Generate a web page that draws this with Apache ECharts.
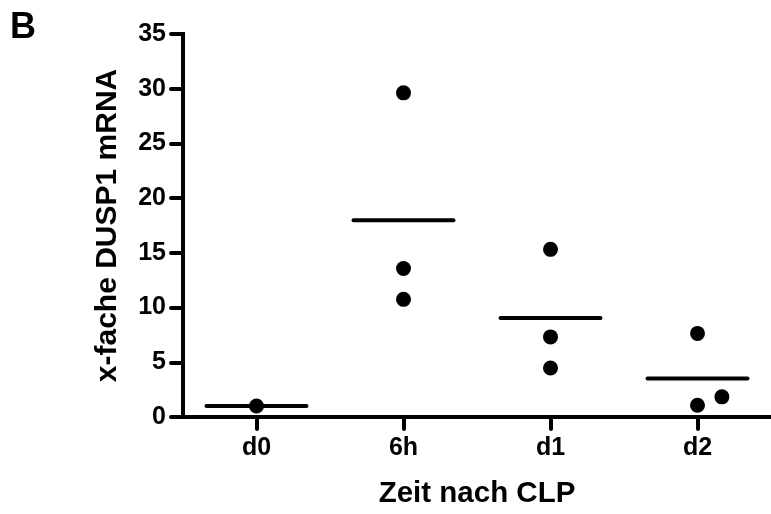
<!DOCTYPE html>
<html>
<head>
<meta charset="utf-8">
<script src="https://cdn.jsdelivr.net/npm/echarts@6/dist/echarts.min.js"></script>
<style>
  html, body { margin: 0; padding: 0; background: #fff; }
  #chart { width: 771px; height: 514px; }
</style>
</head>
<body>
<div id="chart"></div>
<script>
// Time points after CLP and the fold change of DUSP1 mRNA per animal
const categories = ['d0', '6h', 'd1', 'd2'];
const valuesD0 = [1.0];
const values6h = [29.62, 13.57, 10.75];
const valuesD1 = [15.32, 7.32, 4.48];
const valuesD2 = [7.64, 1.07, 1.84];
const yTicks = { min: 0, max: 35, step: 5 };

const groups = [valuesD0, values6h, valuesD1, valuesD2];

// Horizontal spread for points that would overlap within a column
const spread = [[0], [0, 0, 0], [0, 0, 0], [0, 0, 0.166]];

const FONT = '"Liberation Sans", Arial, Helvetica, sans-serif';

const points = [];
groups.forEach((vals, ci) => {
  vals.forEach((v, k) => points.push([ci + spread[ci][k], v]));
});

// Horizontal bar at the group mean
const means = groups.map((vals, ci) => [ci, vals.reduce((a, b) => a + b, 0) / vals.length]);

const chart = echarts.init(document.getElementById('chart'), null, { renderer: 'canvas' });

chart.setOption({
  backgroundColor: '#ffffff',
  animation: false,
  graphic: [{
    type: 'text',
    left: 10,
    top: 10,
    style: { text: 'B', font: 'bold 36px ' + FONT, fill: '#000' }
  }],
  grid: { left: 183, right: 0, top: 34, bottom: 87, containLabel: false },
  xAxis: {
    type: 'value',
    min: -0.5,
    max: categories.length - 0.5,
    name: 'Zeit nach CLP',
    nameLocation: 'middle',
    nameGap: 62,
    nameTextStyle: { fontFamily: FONT, fontWeight: 'bold', fontSize: 29.5, color: '#000' },
    splitLine: { show: false },
    axisLine: { show: true, onZero: false, lineStyle: { color: '#000', width: 4 } },
    axisTick: {
      show: true, length: 12, customValues: categories.map((c, i) => i),
      lineStyle: { color: '#000', width: 4, cap: 'round' }
    },
    axisLabel: {
      customValues: categories.map((c, i) => i),
      formatter: v => categories[Math.round(v)] || '',
      margin: 19,
      fontFamily: FONT, fontWeight: 'bold', fontSize: 25, color: '#000'
    }
  },
  yAxis: {
    type: 'value',
    min: yTicks.min,
    max: yTicks.max,
    interval: yTicks.step,
    name: 'x-fache DUSP1 mRNA',
    nameLocation: 'middle',
    nameGap: 60,
    nameTextStyle: { fontFamily: FONT, fontWeight: 'bold', fontSize: 30, color: '#000' },
    splitLine: { show: false },
    axisLine: { show: true, onZero: false, lineStyle: { color: '#000', width: 4, cap: 'square' } },
    axisTick: { show: true, length: 12, lineStyle: { color: '#000', width: 4, cap: 'round' } },
    axisLabel: {
      margin: 17,
      fontFamily: FONT, fontWeight: 'bold', fontSize: 25, color: '#000'
    }
  },
  series: [
    {
      type: 'custom',
      name: 'mean',
      data: means,
      z: 3,
      renderItem: function (params, api) {
        const x = api.value(0), y = api.value(1);
        const a = api.coord([x - 0.34, y]);
        const b = api.coord([x + 0.34, y]);
        return {
          type: 'line',
          shape: { x1: a[0], y1: a[1], x2: b[0], y2: b[1] },
          style: { stroke: '#000', lineWidth: 4, lineCap: 'round' }
        };
      }
    },
    {
      type: 'scatter',
      name: 'animals',
      data: points,
      symbol: 'circle',
      symbolSize: 15,
      z: 4,
      itemStyle: { color: '#000', opacity: 1 }
    }
  ]
});
</script>
</body>
</html>
